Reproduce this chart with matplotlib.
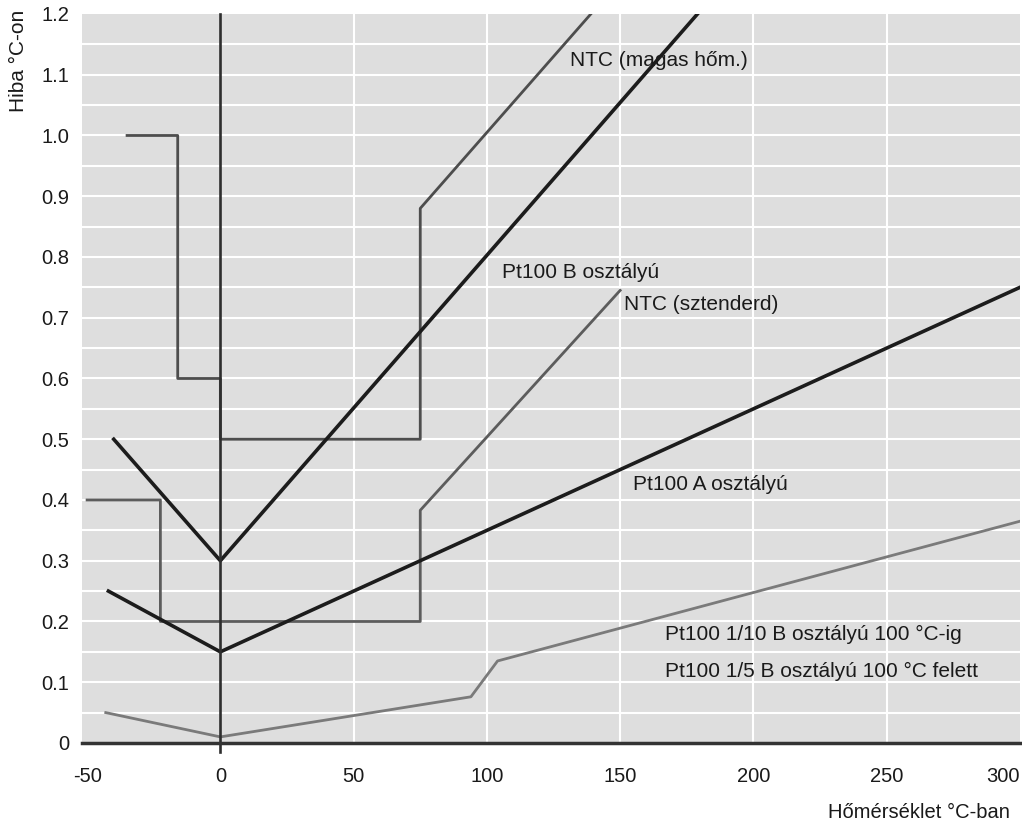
import numpy as np
import matplotlib
matplotlib.use("Agg")
import matplotlib.pyplot as plt

plt.rcParams['font.family'] = ['Liberation Sans', 'DejaVu Sans']

# hőmérséklet (°C) es hiba (°C) pontok a kepről leolvasva
pt100_b_t = [-40, 0, 179]
pt100_b_err = [0.5, 0.3, 1.2]

pt100_a_t = [-42, 0, 300]
pt100_a_err = [0.25, 0.15, 0.75]

pt100_tiz_t = [-43, 0, 94, 104, 300]
pt100_tiz_err = [0.05, 0.01, 0.076, 0.135, 0.365]

ntc_std_t = [-50, -22.5, -22.5, 75, 75, 150]
ntc_std_err = [0.4, 0.4, 0.2, 0.2, 0.383, 0.745]

ntc_magas_t = [-35, -16, -16, 0, 0, 75, 75, 139]
ntc_magas_err = [1.0, 1.0, 0.6, 0.6, 0.5, 0.5, 0.88, 1.2]

x_ticks = [-50, 0, 50, 100, 150, 200, 250, 300]
y_ticks = [0, 0.1, 0.2, 0.3, 0.4, 0.5, 0.6, 0.7, 0.8, 0.9, 1.0, 1.1, 1.2]
y_labels = ['0', '0.1', '0.2', '0.3', '0.4', '0.5', '0.6', '0.7', '0.8', '0.9', '1.0', '1.1', '1.2']

fig = plt.figure(figsize=(10.22, 8.27), dpi=100)
ax = fig.add_axes([0.08, 0.1016, 0.918, 0.8815])
ax.set_facecolor('#dedede')
ax.set_xlim(-52, 300)
ax.set_ylim(0, 1.2)

# racs: vizszintes 0.05-onkent, fuggoleges 50-enkent
for yv in np.arange(0.05, 1.2, 0.05):
    ax.axhline(yv, color='white', lw=1.5, zorder=1)
for xv in [50, 100, 150, 200, 250]:
    ax.axvline(xv, color='white', lw=1.5, zorder=1)

for s in ax.spines.values():
    s.set_visible(False)

ax.plot(ntc_magas_t, ntc_magas_err, color='#4d4d4d', lw=2, zorder=3)
ax.plot(ntc_std_t, ntc_std_err, color='#5c5c5c', lw=2, zorder=3)
ax.plot(pt100_tiz_t, pt100_tiz_err, color='#7a7a7a', lw=2, zorder=3)
ax.plot(pt100_b_t, pt100_b_err, color='#1c1c1c', lw=2.6, zorder=4)
ax.plot(pt100_a_t, pt100_a_err, color='#1c1c1c', lw=2.6, zorder=4)

# tengelyek
ax.plot([0, 0], [-0.015, 1.2], color='#2e2e2e', lw=1.9, clip_on=False, zorder=5)
ax.plot([-52, 300], [0, 0], color='#333333', lw=2.5, clip_on=False, zorder=5)

ax.set_xticks(x_ticks)
ax.set_xticklabels([str(v) for v in x_ticks], fontsize=14.5, color='#1a1a1a')
ax.get_xticklabels()[-1].set_horizontalalignment('right')
ax.set_yticks(y_ticks)
ax.set_yticklabels(y_labels, fontsize=14.5, color='#1a1a1a')
ax.tick_params(length=0)
ax.tick_params(axis='y', pad=9)
ax.tick_params(axis='x', pad=17)

fig.text(0.988, 0.006, 'Hőmérséklet °C-ban', ha='right', va='bottom', fontsize=14.5, color='#1a1a1a')
fig.text(0.018, 0.988, 'Hiba °C-on', rotation=90, ha='center', va='top', fontsize=15, color='#1a1a1a')

kw = dict(fontsize=15, color='#1a1a1a', va='center', ha='left', zorder=6)
ax.text(131, 1.124, 'NTC (magas hőm.)', **kw)
ax.text(105.5, 0.774, 'Pt100 B osztályú', **kw)
ax.text(151.5, 0.721, 'NTC (sztenderd)', **kw)
ax.text(155, 0.425, 'Pt100 A osztályú', **kw)
ax.text(167, 0.178, 'Pt100 1/10 B osztályú 100 °C-ig', **kw)
ax.text(167, 0.117, 'Pt100 1/5 B osztályú 100 °C felett', **kw)

fig.savefig('out.png', dpi=100)
